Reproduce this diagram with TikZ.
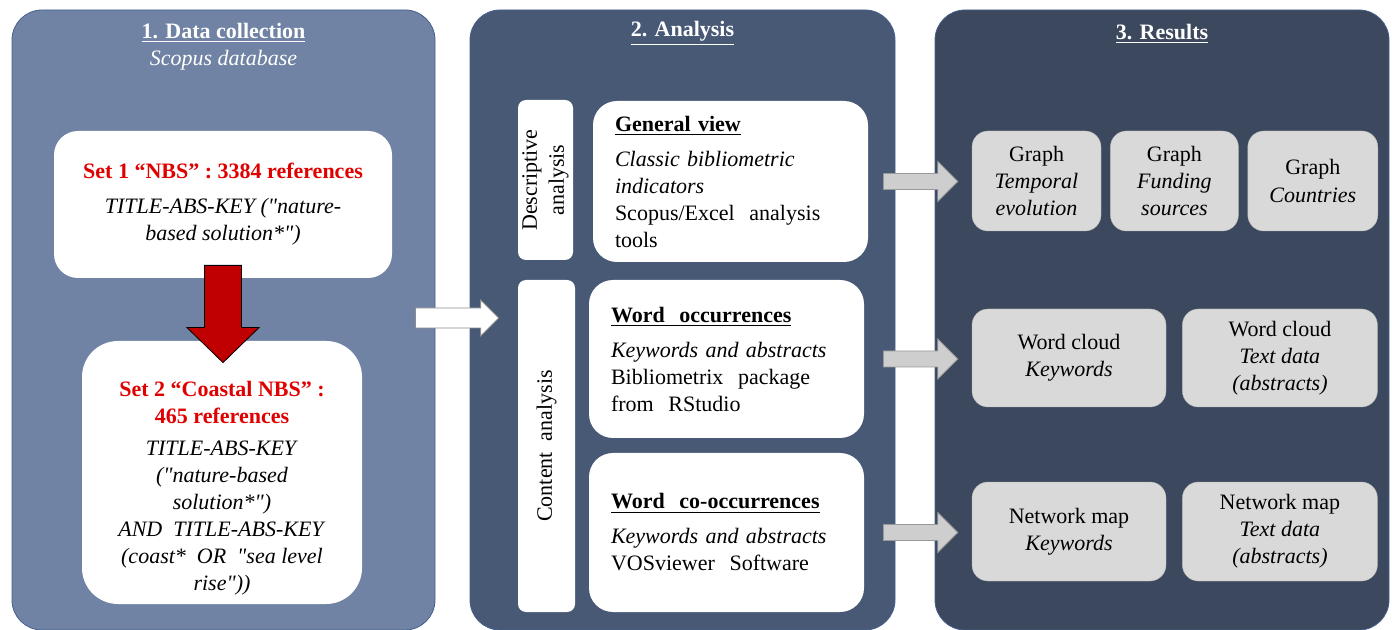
\documentclass[tikz,border=0pt]{standalone}
\usepackage{fontspec}
\setmainfont{Liberation Serif}[Ligatures=TeXOff]
\usepackage{xcolor}
\usetikzlibrary{calc,positioning}
\definecolor{panelA}{RGB}{112,131,164}
\definecolor{panelB}{RGB}{72,89,118}
\definecolor{panelC}{RGB}{59,72,93}
\definecolor{edgeblue}{RGB}{70,95,140}
\definecolor{boxgrey}{RGB}{217,217,217}
\definecolor{setred}{RGB}{224,0,0}
\definecolor{arrowred}{RGB}{192,0,0}
\tikzstyle{panel}=[draw=edgeblue,thin,rounded corners=15pt,inner sep=0pt]
\tikzstyle{setbox}=[fill=white,rounded corners=12pt,align=center,inner sep=0pt]
\tikzstyle{toolbox}=[fill=white,rounded corners=12pt,align=left,text width=115.5pt,inner xsep=11pt,inner ysep=0pt]
\tikzstyle{sidebox}=[fill=white,rounded corners=4pt,rotate=90,align=center,inner sep=0pt]
\tikzstyle{resbox}=[fill=boxgrey,draw=boxgrey!85!black,very thin,rounded corners=8pt,align=center,inner sep=0pt]
\tikzstyle{title}=[white,align=center]
\tikzstyle{greyarrow}=[fill=boxgrey!95!black,draw=black!40,thin]
\tikzstyle{whitearrow}=[fill=white,draw=black!45,thin]
\tikzstyle{redarrow}=[fill=arrowred,draw=black,thin]
\newcommand{\redtxt}[1]{\textcolor{setred}{\textbf{#1}}}
% block arrows: style, from, to, half shaft, half head, head length
\newcommand{\harrow}[6]{%
  \draw[#1] let \p1=(#2), \p2=(#3) in
    (\x1,\y1+#4) -- (\x2-#6,\y1+#4) -- (\x2-#6,\y1+#5) -- (\x2,\y1)
    -- (\x2-#6,\y1-#5) -- (\x2-#6,\y1-#4) -- (\x1,\y1-#4) -- cycle;}
\newcommand{\varrow}[6]{%
  \draw[#1] let \p1=(#2), \p2=(#3) in
    (\x1-#4,\y1) -- (\x1-#4,\y2+#6) -- (\x1-#5,\y2+#6) -- (\x1,\y2)
    -- (\x1+#5,\y2+#6) -- (\x1+#4,\y2+#6) -- (\x1+#4,\y1) -- cycle;}

\begin{document}
\begin{tikzpicture}[x=0.5pt,y=-0.5pt,every node/.style={font=\fontsize{11}{13.5}\selectfont}]
  \useasboundingbox (0,0) rectangle (1392,630);

  % PANELS
  \node[panel,fill=panelA,minimum width=211.5pt,minimum height=310pt] (dc) at (223.5,320) {};
  \node[panel,fill=panelB,minimum width=212.5pt,minimum height=310pt] (an) at (682.5,320) {};
  \node[panel,fill=panelC,minimum width=227pt,minimum height=310pt] (rs) at (1162,320) {};

  \node[title] (dct) at ($(dc.north)+(0,37)$) {\textbf{\underline{1. Data collection}}\\\textit{Scopus database}};
  \node[title] (ant) at ($(an.north)+(0,24)$) {\textbf{\underline{2. Analysis}}};
  \node[title] (rst) at ($(rs.north)+(0,24)$) {\textbf{\underline{3. Results}}};

  % DATA COLLECTION
  \node[setbox,minimum width=169pt,minimum height=73.5pt] (set1) at (223,204.5)
    {\redtxt{Set 1 “NBS” : 3384 references}\\[4pt]
     \textit{TITLE-ABS-KEY ("nature-}\\\textit{based solution*")}};
  \node[setbox,rounded corners=18pt,minimum width=140pt,minimum height=131.5pt] (set2) at (222,472.5) {};
  \node[align=center] (set2txt) at ($(set2)+(0,16)$)
    {\redtxt{Set 2 “Coastal NBS” :}\\\redtxt{465 references}\\[2.5pt]
     \textit{TITLE-ABS-KEY}\\\textit{("nature-based}\\\textit{solution*")}\\
     \textit{AND\ \ TITLE-ABS-KEY}\\\textit{(coast*\ \ OR\ \ "sea level}\\\textit{rise"))}};
  \varrow{redarrow}{$(set1.south)+(0,-13)$}{$(set2.north)+(0,22)$}{9.25pt}{18pt}{17.5pt}

  % ANALYSIS
  \node[sidebox,minimum width=80pt,minimum height=27.5pt] (desc) at (545.5,180) {Descriptive\\analysis};
  \node[sidebox,minimum width=166pt,minimum height=28.5pt] (cont) at (546.5,446) {Content\ \ analysis};
  \node[toolbox,minimum height=80.5pt] (gv) at (730.5,181.5)
    {\textbf{\underline{General view}}\\[4pt]
     \textit{Classic bibliometric}\\\textit{indicators}\\
     Scopus/Excel\ \ analysis\\tools};
  \node[toolbox,minimum height=79pt] (wo) at (726.5,359)
    {\textbf{\underline{Word\ \ occurrences}}\\[4pt]
     \textit{Keywords and abstracts}\\
     Bibliometrix\ \ package\\from\ \ RStudio};
  \node[toolbox,minimum height=79.5pt] (wco) at (726.5,532.5)
    {\textbf{\underline{Word\ \ co-occurrences}}\\[4pt]
     \textit{Keywords and abstracts}\\
     VOSviewer\ \ Software};

  % RESULTS
  \node[resbox,minimum width=64.5pt,minimum height=50pt] (g1) at (1036.5,181) {Graph\\\textit{Temporal}\\\textit{evolution}};
  \node[resbox,minimum width=64pt,minimum height=50pt,right=4.5pt of g1] (g2) {Graph\\\textit{Funding}\\\textit{sources}};
  \node[resbox,minimum width=65pt,minimum height=50pt,right=4.5pt of g2] (g3) {Graph\\\textit{Countries}};
  \node[resbox,minimum width=97pt,minimum height=49pt] (wc1) at (1069,358) {Word cloud\\\textit{Keywords}};
  \node[resbox,minimum width=97.5pt,minimum height=49pt,right=8pt of wc1] (wc2) {Word cloud\\\textit{Text data}\\\textit{(abstracts)}};
  \node[resbox,minimum width=97pt,minimum height=49.5pt] (nm1) at (1069,531.5) {Network map\\\textit{Keywords}};
  \node[resbox,minimum width=97.5pt,minimum height=49.5pt,right=8pt of nm1] (nm2) {Network map\\\textit{Text data}\\\textit{(abstracts)}};

  % ARROWS
  \harrow{whitearrow}{$(dc.east)+(-20,-2)$}{$(an.west)+(29,-2)$}{5pt}{9pt}{9pt}
  \harrow{greyarrow}{$(gv.east)+(15,0)$}{$(g1.west)+(-14,0)$}{4pt}{10pt}{10pt}
  \harrow{greyarrow}{$(wo.east)+(19,0)$}{$(wc1.west)+(-14,0)$}{4pt}{10pt}{10pt}
  \harrow{greyarrow}{$(wco.east)+(19,0)$}{$(nm1.west)+(-14,0)$}{4pt}{10pt}{10pt}
\end{tikzpicture}
\end{document}
